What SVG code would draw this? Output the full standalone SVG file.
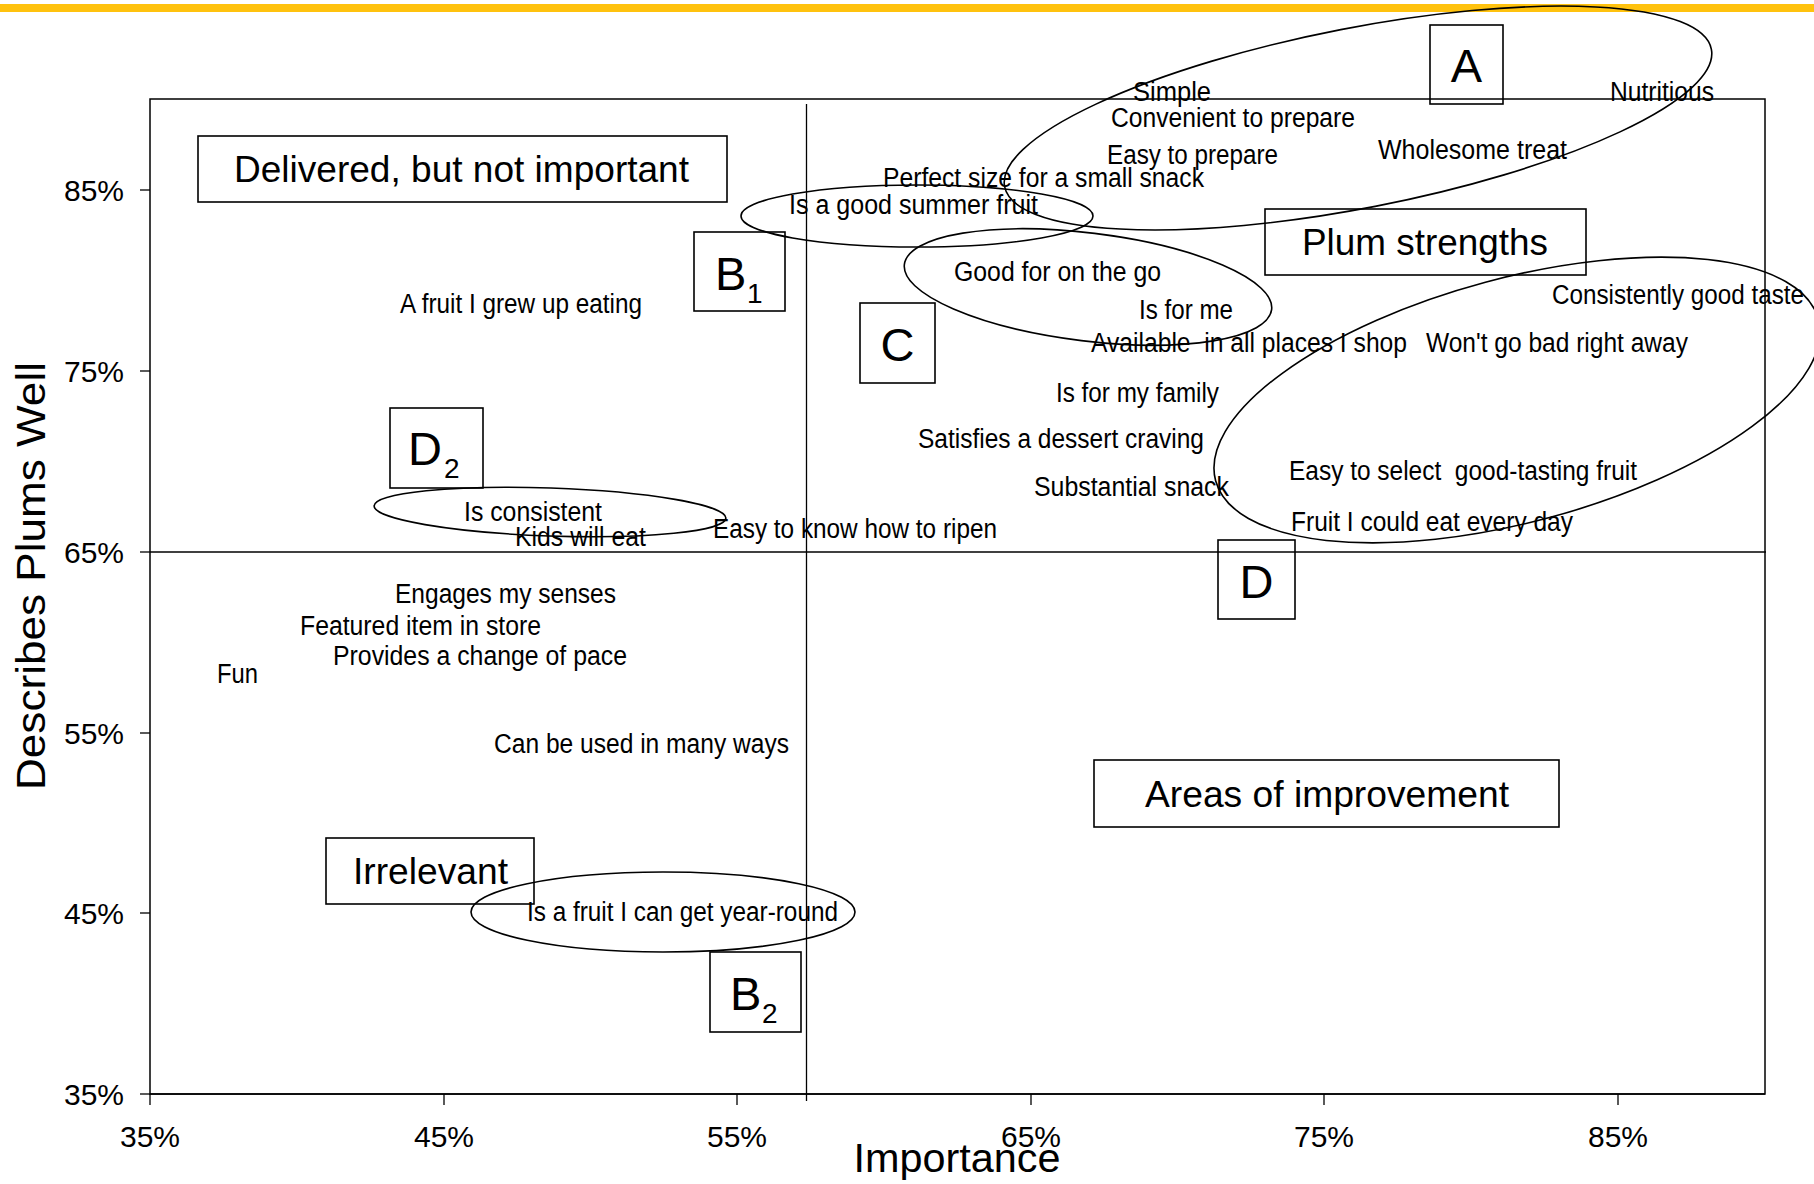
<svg xmlns="http://www.w3.org/2000/svg" width="1814" height="1184" viewBox="0 0 1814 1184">
<style>
text { font-family: "Liberation Sans", Arial, sans-serif; fill: #000; }
.lbl { font-size: 27px; }
.big { font-size: 37px; }
.let { font-size: 47px; }
.sub { font-size: 28px; }
.tick { font-size: 30px; }
.box { fill: none; stroke: #000; stroke-width: 1.6; }
.ell { fill: none; stroke: #000; stroke-width: 1.6; }
.ax { fill: none; stroke: #000; stroke-width: 1.5; }
.thin { fill: none; stroke: #000; stroke-width: 1.3; }
</style>
<rect x="0" y="0" width="1814" height="1184" fill="#ffffff"/>
<rect x="0" y="4" width="1814" height="8" fill="#FFC20E"/>

<g id="axes">
  <rect class="ax" x="150" y="99" width="1615" height="995"/>
  <line class="ax" x1="150" y1="1094" x2="1765" y2="1094" stroke-width="2"/>
  <line class="thin" x1="806.5" y1="104" x2="806.5" y2="1101"/>
  <line class="thin" x1="150" y1="552" x2="1766" y2="552"/>
  <g class="thin">
    <line x1="140" y1="1094" x2="150" y2="1094"/>
    <line x1="140" y1="913" x2="150" y2="913"/>
    <line x1="140" y1="733" x2="150" y2="733"/>
    <line x1="140" y1="552" x2="150" y2="552"/>
    <line x1="140" y1="371" x2="150" y2="371"/>
    <line x1="140" y1="190" x2="150" y2="190"/>
    <line x1="150" y1="1094" x2="150" y2="1105"/>
    <line x1="444" y1="1094" x2="444" y2="1105"/>
    <line x1="737" y1="1094" x2="737" y2="1105"/>
    <line x1="1031" y1="1094" x2="1031" y2="1105"/>
    <line x1="1324" y1="1094" x2="1324" y2="1105"/>
    <line x1="1618" y1="1094" x2="1618" y2="1105"/>
  </g>
  <g class="tick" text-anchor="end">
    <text x="124" y="1105">35%</text>
    <text x="124" y="924">45%</text>
    <text x="124" y="744">55%</text>
    <text x="124" y="563">65%</text>
    <text x="124" y="382">75%</text>
    <text x="124" y="201">85%</text>
  </g>
  <g class="tick" text-anchor="middle">
    <text x="150" y="1147">35%</text>
    <text x="444" y="1147">45%</text>
    <text x="737" y="1147">55%</text>
    <text x="1031" y="1147">65%</text>
    <text x="1324" y="1147">75%</text>
    <text x="1618" y="1147">85%</text>
  </g>
  <text x="957" y="1172" font-size="40" text-anchor="middle" textLength="207" lengthAdjust="spacingAndGlyphs">Importance</text>
  <text transform="translate(45,576) rotate(-90)" font-size="40" text-anchor="middle" textLength="428" lengthAdjust="spacingAndGlyphs">Describes Plums Well</text>
</g>

<g id="ellipses">
  <ellipse id="ell-A" class="ell" cx="1358" cy="118" rx="360" ry="90" transform="rotate(-11 1358 118)"/>
  <ellipse id="ell-summer" class="ell" cx="917" cy="216" rx="176" ry="31"/>
  <ellipse id="ell-C" class="ell" cx="1088" cy="287" rx="185" ry="54" transform="rotate(7 1088 287)"/>
  <ellipse id="ell-D" class="ell" cx="1517" cy="400" rx="312" ry="122" transform="rotate(-15 1517 400)"/>
  <ellipse id="ell-D2" class="ell" cx="550" cy="512" rx="176" ry="24" transform="rotate(2 550 512)"/>
  <ellipse id="ell-B2" class="ell" cx="663" cy="912" rx="192" ry="40"/>
</g>

<g id="labels" class="lbl">
  <text x="1133" y="101" textLength="78" lengthAdjust="spacingAndGlyphs">Simple</text>
  <text x="1610" y="101" textLength="104" lengthAdjust="spacingAndGlyphs">Nutritious</text>
  <text x="1111" y="127" textLength="244" lengthAdjust="spacingAndGlyphs">Convenient to prepare</text>
  <text x="1107" y="164" textLength="171" lengthAdjust="spacingAndGlyphs">Easy to prepare</text>
  <text x="1378" y="159" textLength="189" lengthAdjust="spacingAndGlyphs">Wholesome treat</text>
  <text x="883" y="187" textLength="321" lengthAdjust="spacingAndGlyphs">Perfect size for a small snack</text>
  <text x="789" y="214" textLength="249" lengthAdjust="spacingAndGlyphs">Is a good summer fruit</text>
  <text x="954" y="281" textLength="207" lengthAdjust="spacingAndGlyphs">Good for on the go</text>
  <text x="1139" y="319" textLength="94" lengthAdjust="spacingAndGlyphs">Is for me</text>
  <text x="1091" y="352" textLength="316" lengthAdjust="spacingAndGlyphs" xml:space="preserve">Available  in all places I shop</text>
  <text x="1426" y="352" textLength="262" lengthAdjust="spacingAndGlyphs">Won't go bad right away</text>
  <text x="1552" y="304" textLength="252" lengthAdjust="spacingAndGlyphs">Consistently good taste</text>
  <text x="400" y="313" textLength="242" lengthAdjust="spacingAndGlyphs">A fruit I grew up eating</text>
  <text x="1056" y="402" textLength="163" lengthAdjust="spacingAndGlyphs">Is for my family</text>
  <text x="918" y="448" textLength="286" lengthAdjust="spacingAndGlyphs">Satisfies a dessert craving</text>
  <text x="1034" y="496" textLength="195" lengthAdjust="spacingAndGlyphs">Substantial snack</text>
  <text x="1289" y="480" textLength="348" lengthAdjust="spacingAndGlyphs" xml:space="preserve">Easy to select  good-tasting fruit</text>
  <text x="1291" y="531" textLength="282" lengthAdjust="spacingAndGlyphs">Fruit I could eat every day</text>
  <text x="713" y="538" textLength="284" lengthAdjust="spacingAndGlyphs">Easy to know how to ripen</text>
  <text x="464" y="521" textLength="138" lengthAdjust="spacingAndGlyphs">Is consistent</text>
  <text x="515" y="546" textLength="131" lengthAdjust="spacingAndGlyphs">Kids will eat</text>
  <text x="395" y="603" textLength="221" lengthAdjust="spacingAndGlyphs">Engages my senses</text>
  <text x="300" y="635" textLength="241" lengthAdjust="spacingAndGlyphs">Featured item in store</text>
  <text x="333" y="665" textLength="294" lengthAdjust="spacingAndGlyphs">Provides a change of pace</text>
  <text x="217" y="683" textLength="41" lengthAdjust="spacingAndGlyphs">Fun</text>
  <text x="494" y="753" textLength="295" lengthAdjust="spacingAndGlyphs">Can be used in many ways</text>
  <text x="527" y="921" textLength="311" lengthAdjust="spacingAndGlyphs">Is a fruit I can get year-round</text>
</g>

<g id="box-delivered">
  <rect class="box" x="198" y="136" width="529" height="66"/>
  <text class="big" x="234" y="182" textLength="455" lengthAdjust="spacingAndGlyphs">Delivered, but not important</text>
</g>
<g id="box-strengths">
  <rect class="box" x="1265" y="209" width="321" height="66"/>
  <text class="big" x="1302" y="255" textLength="246" lengthAdjust="spacingAndGlyphs">Plum strengths</text>
</g>
<g id="box-improvement">
  <rect class="box" x="1094" y="760" width="465" height="67"/>
  <text class="big" x="1145" y="807" textLength="364" lengthAdjust="spacingAndGlyphs">Areas of improvement</text>
</g>
<g id="box-irrelevant">
  <rect class="box" x="326" y="838" width="208" height="66"/>
  <text class="big" x="353" y="884" textLength="155" lengthAdjust="spacingAndGlyphs">Irrelevant</text>
</g>
<g id="box-A">
  <rect class="box" x="1430" y="25" width="73" height="79"/>
  <text class="let" x="1466.5" y="82" text-anchor="middle">A</text>
</g>
<g id="box-B1">
  <rect class="box" x="694" y="232" width="91" height="79"/>
  <text class="let" x="715" y="290">B</text>
  <text class="sub" x="747" y="303">1</text>
</g>
<g id="box-C">
  <rect class="box" x="860" y="303" width="75" height="80"/>
  <text class="let" x="897.5" y="361" text-anchor="middle">C</text>
</g>
<g id="box-D2">
  <rect class="box" x="390" y="408" width="93" height="80"/>
  <text class="let" x="408" y="465">D</text>
  <text class="sub" x="444" y="478">2</text>
</g>
<g id="box-D">
  <rect class="box" x="1218" y="540" width="77" height="79"/>
  <text class="let" x="1256.5" y="598" text-anchor="middle">D</text>
</g>
<g id="box-B2">
  <rect class="box" x="710" y="952" width="91" height="80"/>
  <text class="let" x="730" y="1010">B</text>
  <text class="sub" x="762" y="1023">2</text>
</g>
</svg>
